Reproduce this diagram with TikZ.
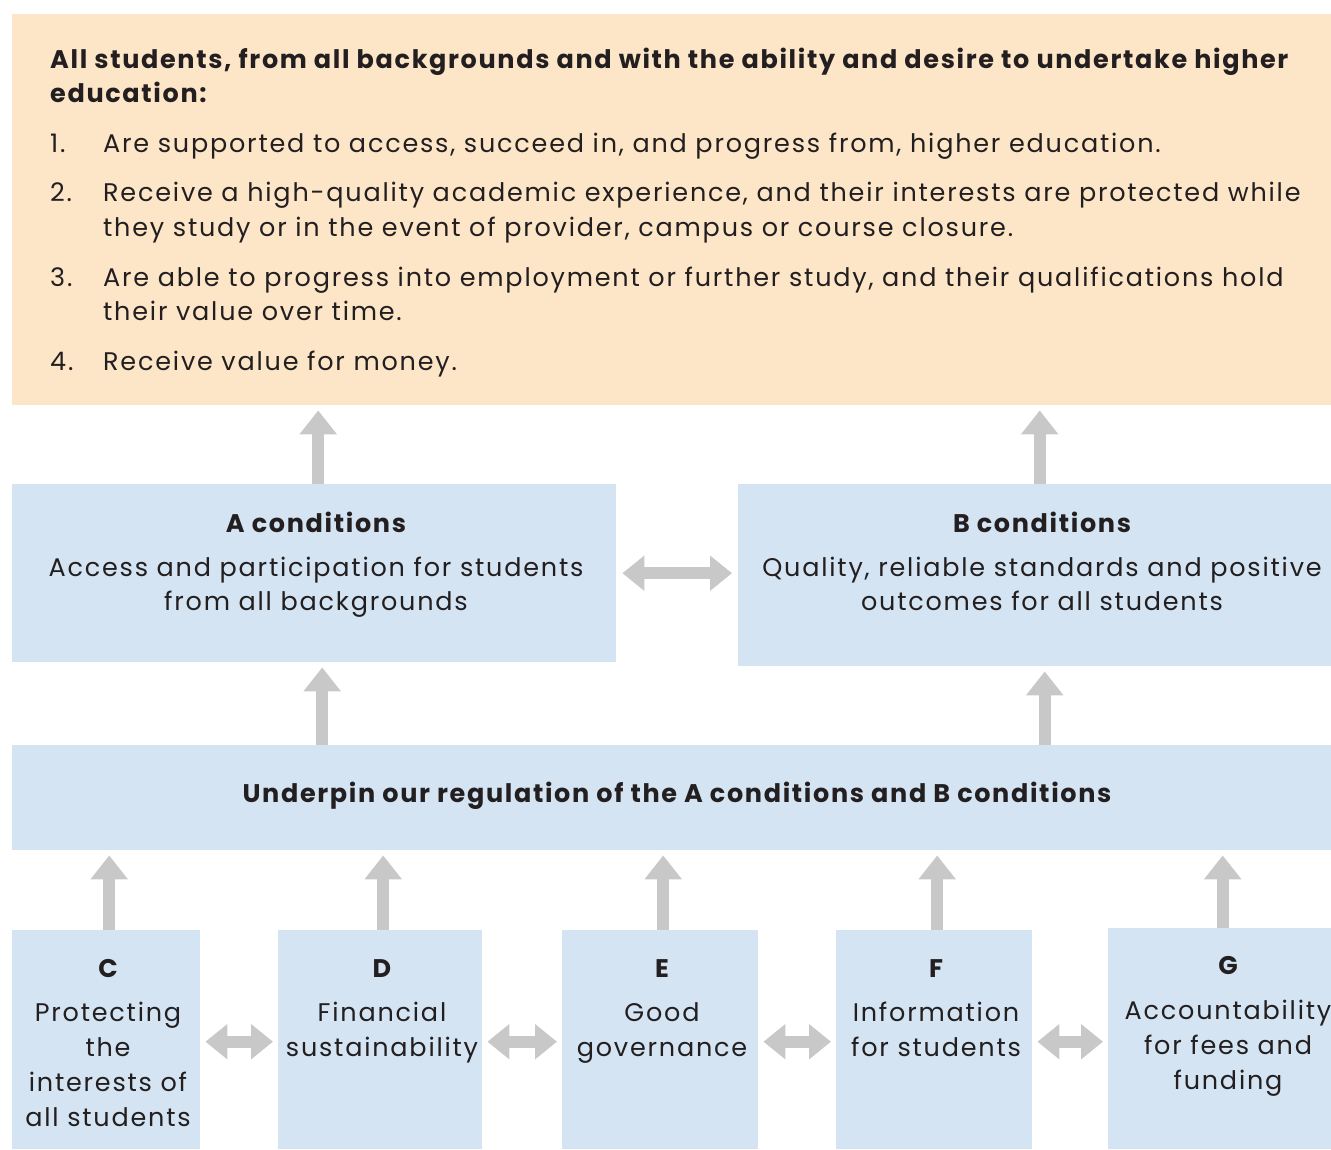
\documentclass[tikz,border=0pt]{standalone}
\usepackage{fontspec}
\setmainfont{Poppins}[LetterSpace=7, BoldFeatures={LetterSpace=6.5}]
\usetikzlibrary{arrows.meta}
\usetikzlibrary{positioning,calc}

\definecolor{peach}{RGB}{253,230,200}
\definecolor{paleblue}{RGB}{212,228,242}
\definecolor{arrowgrey}{RGB}{200,200,200}
\definecolor{ink}{RGB}{35,31,32}

\tikzset{
   panel/.style={fill=#1, draw=none, inner sep=0pt, anchor=north west},
   txt/.style={text=ink, inner sep=0pt, anchor=base, font=\fontsize{25.5}{35}\selectfont},
   hd/.style={txt, font=\fontsize{25.5}{35}\selectfont\bfseries},
   uparrow/.style={draw=arrowgrey, line width=12pt, shorten >=5pt,
      -{Triangle[length=24pt,width=36pt]}},
   twoway/.style={draw=arrowgrey, line width=12pt, shorten >=6pt, shorten <=6pt,
      {Triangle[length=22pt,width=34pt]}-{Triangle[length=22pt,width=34pt]}},
}

\begin{document}
\begin{tikzpicture}[x=1pt,y=-1pt]
   \useasboundingbox (0,0) rectangle (1331,1149);

   % outcomes panel
   \node[panel=peach, minimum width=1319pt, minimum height=391pt] (goal) at (12,14) {};
   \node[hd, anchor=base west] (goal1) at (50,68)
      {All students, from all backgrounds and with the ability and desire to undertake higher};
   \node[hd, anchor=base west] (goal2) at (50,102) {education:};
   \node[txt, anchor=base west] (n1) at (50,152) {1.};
   \node[txt, anchor=base west] (n2) at (50,201) {2.};
   \node[txt, anchor=base west] (n3) at (50,286) {3.};
   \node[txt, anchor=base west] (n4) at (50,370) {4.};
   \node[txt, anchor=base west] (i1) at (103,152)
      {Are supported to access, succeed in, and progress from, higher education.};
   \node[txt, anchor=base west] (i2a) at (103,201)
      {Receive a high-quality academic experience, and their interests are protected while};
   \node[txt, anchor=base west] (i2b) at (103,236)
      {they study or in the event of provider, campus or course closure.};
   \node[txt, anchor=base west] (i3a) at (103,286)
      {Are able to progress into employment or further study, and their qualifications hold};
   \node[txt, anchor=base west] (i3b) at (103,320) {their value over time.};
   \node[txt, anchor=base west] (i4) at (103,370) {Receive value for money.};

   % A and B conditions
   \node[panel=paleblue, minimum width=604pt, minimum height=178pt] (A) at (12,484) {};
   \node[panel=paleblue, minimum width=593pt, minimum height=182pt] (B) at (738,484) {};
   \node[hd] (Ahead) at (316,532) {A conditions};
   \node[txt] (A1) at (316,576) {Access and participation for students};
   \node[txt] (A2) at (316,610) {from all backgrounds};
   \node[hd] (Bhead) at (1042,532) {B conditions};
   \node[txt] (B1) at (1042,576) {Quality, reliable standards and positive};
   \node[txt] (B2) at (1042,610) {outcomes for all students};

   % underpinning conditions
   \node[panel=paleblue, minimum width=1319pt, minimum height=105pt] (under) at (12,745) {};
   \node[hd] (underText) at (677,802) {Underpin our regulation of the A conditions and B conditions};

   \node[panel=paleblue, minimum width=188pt, minimum height=219pt] (C) at (12,930) {};
   \node[panel=paleblue, minimum width=204pt, minimum height=219pt] (D) at (278,930) {};
   \node[panel=paleblue, minimum width=196pt, minimum height=219pt] (E) at (562,930) {};
   \node[panel=paleblue, minimum width=196pt, minimum height=219pt] (F) at (836,930) {};
   \node[panel=paleblue, minimum width=223pt, minimum height=221pt] (G) at (1108,928) {};

   \node[hd] (Chead) at (108,977) {C};
   \node[txt] (C1) at (108,1021) {Protecting};
   \node[txt] (C2) at (108,1056) {the};
   \node[txt] (C3) at (108,1091) {interests of};
   \node[txt] (C4) at (108,1126) {all students};

   \node[hd] (Dhead) at (382,977) {D};
   \node[txt] (D1) at (382,1021) {Financial};
   \node[txt] (D2) at (382,1056) {sustainability};

   \node[hd] (Ehead) at (662,977) {E};
   \node[txt] (E1) at (662,1021) {Good};
   \node[txt] (E2) at (662,1056) {governance};

   \node[hd] (Fhead) at (936,977) {F};
   \node[txt] (F1) at (936,1021) {Information};
   \node[txt] (F2) at (936,1056) {for students};

   \node[hd] (Ghead) at (1228,974) {G};
   \node[txt] (G1) at (1228,1019) {Accountability};
   \node[txt] (G2) at (1228,1054) {for fees and};
   \node[txt] (G3) at (1228,1089) {funding};

   % arrows
   \draw[uparrow] ([xshift=4pt]A.north) -- ([xshift=4pt]A.north |- goal.south);
   \draw[uparrow] ([xshift=5pt]B.north) -- ([xshift=5pt]B.north |- goal.south);
   \draw[uparrow] ([xshift=8pt]A.south |- under.north) -- ([xshift=8pt]A.south);
   \draw[uparrow] ([xshift=10pt]B.south |- under.north) -- ([xshift=10pt]B.south);
   \foreach \cell in {C,D,E,F,G}
      \draw[uparrow] ([xshift=3pt]\cell.north) -- ([xshift=3pt]\cell.north |- under.south);

   \draw[twoway] (A.east) -- (A.east -| B.west);
   \draw[twoway, shorten >=5pt, shorten <=5pt] ([yshift=-2pt]C.east) -- ([yshift=-2pt]C.east -| D.west);
   \draw[twoway, shorten >=5pt, shorten <=5pt] ([yshift=-2pt]D.east) -- ([yshift=-2pt]D.east -| E.west);
   \draw[twoway, shorten >=5pt, shorten <=5pt] ([yshift=-2pt]E.east) -- ([yshift=-2pt]E.east -| F.west);
   \draw[twoway, shorten >=5pt, shorten <=5pt] ([yshift=-2pt]F.east) -- ([yshift=-2pt]F.east -| G.west);
\end{tikzpicture}
\end{document}
